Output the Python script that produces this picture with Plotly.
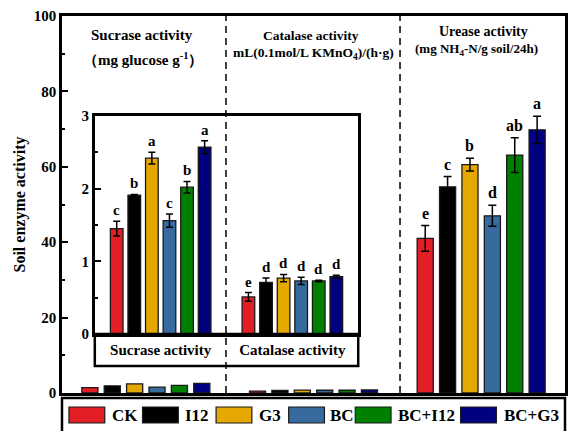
import plotly.graph_objects as go

# ---- data -------------------------------------------------------------
treatments = ["CK", "I12", "G3", "BC", "BC+I12", "BC+G3"]
enzymes = ["Sucrase activity", "Catalase activity", "Urease activity"]

sucrase = [1.45, 1.91, 2.42, 1.56, 2.02, 2.57]
sucrase_err = [0.10, 0.01, 0.08, 0.09, 0.08, 0.09]
sucrase_sig = ["c", "b", "a", "c", "b", "a"]

catalase = [0.51, 0.71, 0.77, 0.73, 0.73, 0.79]
catalase_err = [0.06, 0.06, 0.05, 0.05, 0.01, 0.02]
catalase_sig = ["e", "d", "d", "d", "d", "d"]

urease = [41.0, 54.7, 60.6, 47.0, 63.1, 69.8]
urease_err = [3.4, 2.7, 1.7, 2.8, 4.6, 3.6]
urease_sig = ["e", "c", "b", "d", "ab", "a"]

main_yticks = [0, 20, 40, 60, 80, 100]
inset_yticks = [0, 1, 2, 3]

# ---- style ------------------------------------------------------------
colors = ["#E31E24", "#000000", "#E5A800", "#376A9E", "#008000", "#000080"]
FONT = "Liberation Serif, Times New Roman, serif"
W, H = 572, 431
ML, MR, MT, MB = 62, 4, 16, 38
PW, PH = W - ML - MR, H - MT - MB
STEP = 0.1335      # spacing between treatments inside a group (axis units)
BAR_W = 0.096      # bar width (axis units)


def px_x(px):
    return (px - ML) / PW


def px_y(py):
    return (H - MB - py) / PH


def pos(group, i):
    return group + (i - (len(treatments) - 1) / 2) * STEP


def bold(size):
    return dict(family=FONT, size=size, color="black", weight="bold")


fig = go.Figure()
bar_line = dict(color="#1a1a1a", width=1.3)
err_style = dict(type="data", color="black", thickness=1.5, width=4)

annotations = []
for i, name in enumerate(treatments):
    # main panel: sucrase and catalase (tiny on this scale)
    fig.add_trace(go.Bar(
        x=[pos(0, i), pos(1, i)], y=[sucrase[i], catalase[i]], width=BAR_W,
        marker=dict(color=colors[i], line=bar_line), name=name,
        showlegend=False, xaxis="x", yaxis="y"))
    # main panel: urease
    fig.add_trace(go.Bar(
        x=[pos(2, i)], y=[urease[i]], width=BAR_W,
        error_y=dict(array=[urease_err[i]], **err_style),
        marker=dict(color=colors[i], line=bar_line), name=name,
        showlegend=False, xaxis="x", yaxis="y"))
    annotations.append(dict(
        x=pos(2, i), y=urease[i] + urease_err[i], xref="x", yref="y",
        text=urease_sig[i], showarrow=False, xanchor="center",
        yanchor="bottom", yshift=2, font=bold(16)))
    # inset: sucrase and catalase on their own scale
    fig.add_trace(go.Bar(
        x=[pos(0, i), pos(1, i)], y=[sucrase[i], catalase[i]], width=BAR_W,
        error_y=dict(array=[sucrase_err[i], catalase_err[i]],
                     type="data", color="black", thickness=1.5, width=3.5),
        marker=dict(color=colors[i], line=bar_line), name=name,
        showlegend=False, xaxis="x2", yaxis="y2"))
    for g, (vals, errs, sig) in enumerate([(sucrase, sucrase_err, sucrase_sig),
                                           (catalase, catalase_err, catalase_sig)]):
        annotations.append(dict(
            x=pos(g, i), y=vals[i] + errs[i], xref="x2", yref="y2",
            text=sig[i], showarrow=False, xanchor="center", yanchor="bottom",
            yshift=1, font=bold(15)))

# panel headings
headings = [
    ("Sucrase activity", 142, 35, 15),
    ("（mg glucose g<sup>-1</sup>）", 143, 59, 15),
    ("Catalase activity", 312, 35, 13.5),
    ("mL(0.1mol/L KMnO<sub>4</sub>)/(h·g)", 315, 53, 13.5),
    ("Urease activity", 486, 31, 14),
    ("(mg NH<sub>4</sub>-N/g soil/24h)", 479, 49, 13),
]
for text, cx, cy, size in headings:
    annotations.append(dict(x=px_x(cx), y=px_y(cy), xref="paper", yref="paper",
                            text=text, showarrow=False, xanchor="center",
                            yanchor="middle", font=bold(size)))

shapes = []
# inset category label row
shapes.append(dict(type="rect", xref="paper", yref="paper",
                   x0=px_x(95), x1=px_x(360), y0=px_y(366), y1=px_y(334),
                   line=dict(color="black", width=2.5), layer="above"))
# dashed separators between enzymes
for xv in (0.478, 1.516):
    shapes.append(dict(type="line", xref="x", yref="y", x0=xv, x1=xv,
                       y0=0, y1=100, layer="above",
                       line=dict(color="black", width=1.5, dash="7px,5px")))

# legend box with swatches
shapes.append(dict(type="rect", xref="paper", yref="paper",
                   x0=0, x1=1, y0=px_y(445), y1=px_y(398),
                   line=dict(color="black", width=2.5)))
swatch_left = [69, 143, 217, 290, 357, 463]
text_left = [110, 184, 258, 330, 398, 505]
for i, name in enumerate(treatments):
    shapes.append(dict(type="rect", xref="paper", yref="paper",
                       x0=px_x(swatch_left[i]), x1=px_x(swatch_left[i] + 36),
                       y0=px_y(423), y1=px_y(407),
                       fillcolor=colors[i], line=dict(color="#1a1a1a", width=1.2)))
    annotations.append(dict(x=px_x(text_left[i]), y=px_y(415), xref="paper",
                            yref="paper", text=name, showarrow=False,
                            xanchor="left", yanchor="middle", font=bold(17)))

axis_line = dict(showline=True, mirror=True, linecolor="black", linewidth=2.5,
                 showgrid=False, zeroline=False)

fig.update_layout(
    width=W, height=H,
    margin=dict(l=ML, r=MR, t=MT, b=MB, pad=0),
    paper_bgcolor="white", plot_bgcolor="white",
    font=dict(family=FONT, color="black"),
    showlegend=False,
    barmode="overlay",
    xaxis=dict(domain=[0, 1], range=[-0.5, 2.5], showticklabels=False,
               ticks="", **axis_line),
    yaxis=dict(range=[0, 100], tickvals=main_yticks,
               ticks="inside", ticklen=6, tickwidth=2, tickcolor="black",
               minor=dict(tickvals=[v + 10 for v in main_yticks[:-1]],
                          ticks="inside", ticklen=3, tickwidth=1.5,
                          tickcolor="black"),
               tickfont=bold(15),
               title=dict(text="Soil enzyme activity", font=bold(16), standoff=5),
               **axis_line),
    xaxis2=dict(domain=[px_x(95), px_x(360)], anchor="y2", range=[-0.5, 1.5],
                tickvals=[0, 1], ticktext=enzymes[:2], ticks="",
                tickfont=bold(15), ticklabelstandoff=0, **axis_line),
    yaxis2=dict(domain=[px_y(334), px_y(116)], anchor="x2", range=[0, 3],
                tickvals=inset_yticks,
                ticks="inside", ticklen=6, tickwidth=2, tickcolor="black",
                minor=dict(tickvals=[v + 0.5 for v in inset_yticks[:-1]],
                           ticks="inside", ticklen=3, tickwidth=1.5,
                           tickcolor="black"),
                tickfont=bold(15), **axis_line),
    annotations=annotations,
    shapes=shapes,
)

fig.write_html("out.html")
